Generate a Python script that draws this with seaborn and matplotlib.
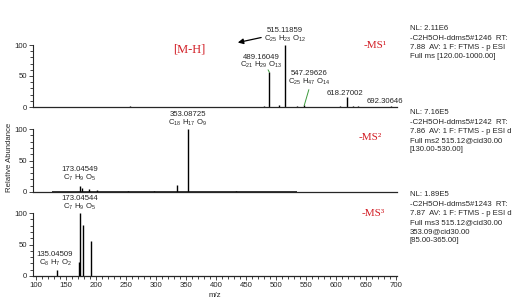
import numpy as np
import pandas as pd
import seaborn as sns
import matplotlib
matplotlib.use("Agg")
import matplotlib.pyplot as plt
from matplotlib.ticker import MultipleLocator

# ---------------- data ----------------
ms1_mz = [257.0, 481.0, 489.16049, 505.0, 515.11859, 535.0, 547.29626, 607.0, 618.27002, 628.0, 637.0, 692.30646]
ms1_int = [1.5, 2.0, 56.0, 3.0, 100.0, 2.0, 2.5, 2.0, 16.0, 2.0, 1.5, 2.0]

ms2_mz = [173.04549, 177.0, 188.0, 201.0, 253.0, 297.0, 335.0, 353.08725, 433.0]
ms2_int = [10.0, 6.0, 4.0, 3.0, 2.0, 1.5, 11.0, 100.0, 2.0]
ms2_range = [130.0, 530.0]

ms3_mz = [135.04509, 171.0, 173.04544, 179.03, 191.06]
ms3_int = [10.0, 22.0, 100.0, 81.0, 55.0]

info1 = ["NL: 2.11E6", "-C2H5OH-ddms5#1246  RT:", "7.88  AV: 1 F: FTMS - p ESI", "Full ms [120.00-1000.00]"]
info2 = ["NL: 7.16E5", "-C2H5OH-ddms5#1242  RT:", "7.86  AV: 1 F: FTMS - p ESI d", "Full ms2 515.12@cid30.00", "[130.00-530.00]"]
info3 = ["NL: 1.89E5", "-C2H5OH-ddms5#1243  RT:", "7.87  AV: 1 F: FTMS - p ESI d", "Full ms3 515.12@cid30.00", "353.09@cid30.00", "[85.00-365.00]"]
ms_titles = ["-MS\u00b9", "-MS\u00b2", "-MS\u00b3"]

# ---------------- style ----------------
sns.set_style("ticks")
plt.rcParams['font.family'] = ['Liberation Sans', 'DejaVu Sans']
plt.rcParams['mathtext.default'] = 'regular'

W, H = 516, 304
fig = plt.figure(figsize=(W / 100, H / 100), dpi=100)

def pos(top, bottom, left=33, right=397):
    return [left / W, 1 - bottom / H, (right - left) / W, (bottom - top) / H]

ax1 = fig.add_axes(pos(45, 107))
ax2 = fig.add_axes(pos(129, 192))
ax3 = fig.add_axes(pos(213, 276))
axes = [ax1, ax2, ax3]

RED = "#d21f26"
GREEN = "#3c9a3c"
FS = 5.6

dfs = [pd.DataFrame({"mz": ms1_mz, "int": ms1_int}),
       pd.DataFrame({"mz": ms2_mz, "int": ms2_int}),
       pd.DataFrame({"mz": ms3_mz, "int": ms3_int})]

for ax, df in zip(axes, dfs):
    ax.vlines(df["mz"], 0, df["int"], color="black", lw=1.0)
    ax.set_xlim(95, 702)
    ax.set_ylim(0, 100)
    sns.despine(ax=ax)
    ax.spines['left'].set_linewidth(0.8)
    ax.spines['bottom'].set_linewidth(0.9)
    ax.yaxis.set_major_locator(MultipleLocator(50))
    ax.yaxis.set_minor_locator(MultipleLocator(10))
    ax.tick_params(axis='y', which='major', length=3, width=0.6, labelsize=FS, pad=1)
    ax.tick_params(axis='y', which='minor', length=2, width=0.6)
    ax.set_facecolor("none")

# noise baseline in MS2 range
ax2.hlines(0.6, ms2_range[0] - 3, ms2_range[1] + 5, color="black", lw=1.1)

for ax in (ax1, ax2):
    ax.set_xticks([])
    ax.tick_params(axis='x', which='both', length=0)

ax3.xaxis.set_major_locator(MultipleLocator(50))
ax3.xaxis.set_minor_locator(MultipleLocator(10))
ax3.tick_params(axis='x', which='major', length=3, width=0.6, labelsize=FS, pad=1.5)
ax3.tick_params(axis='x', which='minor', length=2, width=0.6)
ax3.set_xlabel("m/z", fontsize=FS, labelpad=2)

def label(ax, mz, h, txt, formula, dx=0, dy=0, fs=FS):
    ax.annotate(txt, xy=(mz, h), xytext=(dx, dy + 14), textcoords='offset pixels',
                ha='center', va='center', fontsize=fs, annotation_clip=False)
    if formula:
        ax.annotate(formula, xy=(mz, h), xytext=(dx, dy + 6), textcoords='offset pixels',
                    ha='center', va='center', fontsize=fs, annotation_clip=False)

# MS1 labels
label(ax1, 515.11859, 100, "515.11859", "C$_{25}$ H$_{23}$ O$_{12}$", dx=0, dy=0)
label(ax1, 489.16049, 56.0, "489.16049", "C$_{21}$ H$_{29}$ O$_{13}$", dx=-8, dy=1)
label(ax1, 547.29626, 2.5, "547.29626", "C$_{25}$ H$_{47}$ O$_{14}$", dx=5, dy=18)
label(ax1, 618.27002, 16.0, "618.27002", None, dx=-2, dy=-10)
label(ax1, 692.30646, 2.0, "692.30646", None, dx=-6, dy=-10)
ax1.plot([547.29626, 555], [2.5, 28], color=GREEN, lw=0.7, clip_on=False)
ax1.plot([489.16049, 487], [56, 60], color=GREEN, lw=0.7, clip_on=False)
ax1.annotate("", xy=(432, 103), xytext=(480, 113),
             arrowprops=dict(arrowstyle="-|>", color="black", lw=0.9, mutation_scale=8),
             annotation_clip=False)
ax1.text(355, 93, "[M-H]", color=RED, fontsize=9, family=['Liberation Serif', 'DejaVu Serif'],
         ha='center', va='center')

# MS2 labels
label(ax2, 353.08725, 100, "353.08725", "C$_{18}$ H$_{17}$ O$_{9}$")
label(ax2, 173.04549, 10.0, "173.04549", "C$_{7}$ H$_{9}$ O$_{5}$", dx=0, dy=2)

# MS3 labels
label(ax3, 173.04544, 100, "173.04544", "C$_{7}$ H$_{9}$ O$_{5}$")
label(ax3, 135.04509, 10.0, "135.04509", "C$_{8}$ H$_{7}$ O$_{2}$", dx=-2, dy=1)

for ax, t, (x, y) in zip(axes, ms_titles, [(665, 100), (657, 87), (662, 100)]):
    ax.text(x, y, t, color=RED, fontsize=8, family=['Liberation Serif', 'DejaVu Serif'],
            ha='center', va='center')

# right-hand info text
for lines, top in zip([info1, info2, info3], [29, 113, 195]):
    for i, line in enumerate(lines):
        fig.text(410 / W, 1 - (top + i * 9.2) / H, line, fontsize=FS, ha='left', va='center')

fig.text(10 / W, 1 - 157 / H, "Relative Abundance", rotation=90, fontsize=FS,
         ha='center', va='center')

fig.savefig("out.png", dpi=100)
